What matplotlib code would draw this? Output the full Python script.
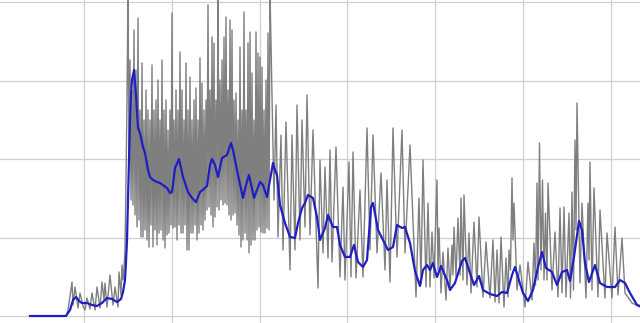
import numpy as np
import matplotlib
matplotlib.use("Agg")
import matplotlib.pyplot as plt

# daily counts (grey), as day index / value
day = [30, 66, 68, 72, 73, 75, 78, 80, 83, 85, 87, 90, 92, 95, 97, 100, 102, 104, 105, 107,
       110, 113, 115, 118, 119, 121, 122, 123, 124, 125, 126, 127, 128,
       129, 130, 131, 132, 133, 134, 135, 136, 137, 138, 139, 140, 141, 142, 143, 144, 145, 146,
       147, 148, 149, 150, 151, 152, 153, 154, 155, 156, 157, 158, 159, 160, 161, 162, 163, 164,
       165, 166, 167, 168, 169, 170, 171, 172, 173, 174, 175, 176, 177, 178, 179, 180, 181, 182,
       183, 184, 185, 186, 187, 188, 189, 190, 191, 192, 193, 194, 195, 196, 197, 198, 199, 200,
       201, 202, 203, 204, 205, 206, 207, 208, 209, 210, 211, 212, 213, 214, 215, 216, 217, 218,
       219, 220, 221, 222, 223, 224, 225, 226, 227, 228, 229, 230, 231, 232, 233, 234, 235, 236,
       237, 238, 239, 240, 241, 242, 243, 244, 245, 246, 247, 248, 249, 250, 251, 252, 253, 254,
       255, 256, 257, 258, 259, 260, 261, 262, 263, 264, 265, 266, 267, 268, 269, 270,
       274, 276, 278, 281, 283, 286, 290, 292, 295, 297, 300, 302, 305, 307, 310, 313, 318, 320,
       323, 325, 328, 330, 332, 336, 340, 343, 345, 349, 351, 353, 356, 360, 363, 367, 370, 373,
       377, 381, 385, 387, 390, 393, 397, 402, 405, 410, 416, 419, 421, 423, 426, 428, 430, 432,
       434, 437, 438, 439, 441, 443, 446, 448, 450, 452, 453, 454, 456, 458, 460, 461, 463, 464,
       467, 469, 471, 474, 477, 479, 483, 486, 490, 493, 495, 497, 499, 501, 504, 506, 508, 509,
       510.5, 512, 513, 514, 517, 520, 525, 528, 532, 534, 535.5, 537, 538, 539.5, 541, 542.5,
       544, 545.5, 547, 548, 552, 555, 558, 560, 562, 564, 566, 569, 570.5, 572, 573.5, 575, 576,
       577, 580, 582, 586, 588, 589, 590, 592, 594, 598, 600, 605, 607, 612, 615, 618, 622, 625,
       632, 640]
daily = [0, 0, 6, 34, 11, 29, 8, 23, 10, 6, 18, 7, 23, 6, 29, 8, 34, 16, 33, 9,
         41, 11, 29, 9, 44, 21, 51, 36, 48, 66, 136, 216, 325,
         156, 256, 116, 226, 111, 286, 101, 246, 89, 298, 96, 206, 79, 253, 79, 196, 86, 226,
         76, 206, 69, 196, 91, 251, 69, 206, 86, 216, 71, 236, 83, 196, 86, 256, 76, 206,
         68, 216, 81, 186, 83, 206, 91, 303, 88, 196, 89, 226, 76, 206, 91, 264, 83, 226,
         83, 196, 91, 253, 66, 206, 66, 239, 83, 196, 83, 216, 91, 228, 76, 196, 83, 258,
         91, 233, 86, 206, 96, 216, 106, 311, 109, 226, 101, 279, 89, 273, 99, 216, 109, 325,
         106, 236, 116, 256, 111, 279, 113, 299, 111, 226, 101, 296, 96, 286, 101, 216, 103, 223,
         91, 196, 81, 269, 69, 206, 76, 304, 83, 206, 76, 273, 63, 284, 71, 243, 76, 196,
         76, 284, 86, 263, 89, 259, 84, 249, 83, 206, 83, 236, 88, 283, 86, 325,
         116, 211, 79, 181, 66, 194, 46, 181, 66, 211, 76, 196, 89, 221, 81, 186, 28, 156,
         63, 149, 58, 166, 54, 169, 39, 129, 36, 154, 39, 164, 38, 126, 39, 188, 66, 181,
         63, 143, 46, 136, 34, 188, 59, 186, 63, 171, 19, 118, 33, 156, 29, 113, 29, 84,
         38, 136, 46, 88, 23, 64, 16, 68, 26, 71, 41, 89, 39, 98, 41, 118, 36, 121,
         31, 83, 23, 94, 29, 99, 19, 74, 18, 76, 14, 66, 13, 79, 9, 58, 19, 66,
         46, 138, 76, 113, 26, 51, 9, 54, 16, 73, 31, 133, 36, 173, 46, 136,
         36, 103, 36, 133, 26, 84, 19, 108, 23, 109, 19, 103, 18, 124, 26, 176, 86,
         213, 33, 113, 18, 113, 56, 154, 26, 128, 19, 106, 18, 83, 18, 89, 21, 78, 23,
         13, 9]

# 7-day average (blue)
avg_day = [30, 66, 70, 73, 76, 79, 82, 87, 92, 97, 102, 107, 112, 117, 121, 123, 125, 126, 127,
           128, 129, 130, 131, 132, 134, 136, 138, 140, 143, 145, 148, 150, 153, 157, 160, 163,
           167, 170, 172, 175, 179, 183, 188, 192, 196, 200, 205, 207, 210, 212, 215, 218, 222,
           227, 231, 233, 235, 238, 243, 246, 249, 254, 257, 260, 263, 267, 270, 273, 275, 277,
           280, 285, 290, 295, 298, 302, 305, 308, 313, 317, 320, 325, 328, 333, 337, 340, 345,
           350, 354, 358, 363, 367, 371, 373, 378, 383, 388, 393, 397, 402, 405, 410, 415, 420,
           423, 427, 430, 433, 437, 441, 447, 450, 455, 462, 465, 468, 474, 479, 483, 490, 497,
           502, 507, 512, 515, 518, 523, 528, 533, 538, 542, 546, 552, 557, 562, 567, 570, 574,
           579, 582, 585, 589, 595, 600, 607, 615, 620, 625, 630, 637, 640]
avg = [0, 0, 6, 16, 19, 15, 13, 13, 11, 10, 13, 18, 17, 14, 17, 24, 36, 54, 76,
       116, 156, 196, 221, 236, 246, 221, 188, 183, 169, 163, 146, 139, 136, 134, 133, 131,
       128, 123, 124, 148, 157, 139, 124, 118, 114, 124, 128, 130, 151, 157, 151, 139, 158,
       161, 173, 166, 156, 141, 118, 131, 141, 118, 126, 134, 131, 119, 136, 153, 146, 141,
       111, 93, 79, 78, 93, 108, 113, 121, 118, 99, 76, 88, 101, 89, 89, 71, 59,
       59, 71, 54, 49, 56, 109, 113, 86, 76, 66, 69, 91, 88, 89, 73, 45, 30,
       46, 51, 46, 53, 39, 50, 36, 26, 33, 55, 58, 49, 31, 40, 26, 22, 20,
       24, 23, 41, 49, 39, 23, 15, 26, 49, 64, 48, 44, 31, 44, 46, 35, 59,
       95, 86, 53, 34, 51, 33, 29, 29, 36, 33, 23, 11, 10]

fig = plt.figure(figsize=(6.4, 3.23), dpi=100)
ax = fig.add_axes([0, 0, 1, 1])

ax.plot(day, daily, color='#7f7f7f', lw=1.0, zorder=2)
ax.plot(avg_day, avg, color='#1f1fc4', lw=1.6, zorder=3)

ax.set_xlim(0, 640)
ax.set_ylim(-7, 316)
ax.set_xticks(np.arange(84, 640, 87.8))
ax.set_yticks(np.arange(0, 320, 78.5))
ax.grid(True, color='#cfcfcf', lw=0.9)
ax.set_axisbelow(True)
ax.tick_params(length=0, labelbottom=False, labelleft=False)
for s in ax.spines.values():
    s.set_visible(False)

fig.savefig('out.png', dpi=100)
